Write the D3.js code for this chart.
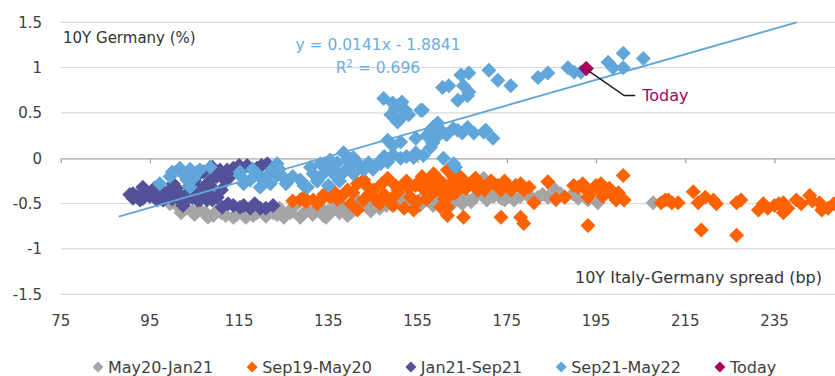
<!DOCTYPE html>
<html>
<head>
<meta charset="utf-8">
<script src="https://cdn.jsdelivr.net/npm/d3@7"></script>
<style>
  html, body { margin: 0; padding: 0; background: #fff; }
  svg { display: block; font-family: "DejaVu Sans", sans-serif; }
</style>
</head>
<body>
<div class="chart_wrapper"></div>
<script>
// series: [spread (bp), 10Y Bund yield (%)]
const mayJan21 = [
  [99.5,-0.5],[101.1,-0.52],[103,-0.55],[106.2,-0.57],[107.5,-0.6],[109.2,-0.63],[111,-0.6],[113.7,-0.65],
  [115.5,-0.6],[118.1,-0.63],[120,-0.58],[122.6,-0.6],[124,-0.55],[125.8,-0.61],[127.1,-0.54],[128.7,-0.65],
  [130.3,-0.57],[131.5,-0.62],[133.2,-0.54],[133.9,-0.63],[135,-0.58],[136.1,-0.57],[137,-0.5],[139.3,-0.63],
  [140.5,-0.55],[141.5,-0.46],[143.8,-0.54],[145.5,-0.5],[147.4,-0.46],[149,-0.5],[150.5,-0.35],[151.2,-0.43],
  [152.8,-0.43],[154.1,-0.46],[155.5,-0.52],[157.2,-0.46],[159.5,-0.44],[161.7,-0.46],[162.4,-0.52],[164,-0.4],
  [166,-0.45],[168,-0.42],[169.8,-0.22],[170.5,-0.46],[172,-0.42],[173.7,-0.44],[175,-0.4],[176.6,-0.46],
  [177,-0.3],[179.7,-0.39],[182,-0.43],[184.2,-0.43],[185.3,-0.32],[187.1,-0.39],[189.8,-0.39],[193.2,-0.46],
  [195.4,-0.49],[207.8,-0.49],
  [102,-0.6],[104.5,-0.58],[105,-0.62],[108,-0.65],[110,-0.58],[112,-0.63],[114.5,-0.62],[116.5,-0.65],
  [117,-0.57],[119,-0.6],[121,-0.64],[123.5,-0.62],[125,-0.65],[126.5,-0.6],[129.5,-0.6],[132,-0.58],
  [134.5,-0.65],[137.5,-0.6],[138.5,-0.55],[140,-0.6],[142.5,-0.52],[144.5,-0.58],[146.5,-0.55],[148,-0.52],
  [150,-0.48],[153,-0.5],[156,-0.44],[158.5,-0.52],[160.5,-0.43],[163,-0.46],[165,-0.5],[167,-0.48],
  [171,-0.4],[174.5,-0.46],[178,-0.42],[180.5,-0.45],[183,-0.4],[186,-0.46],[188,-0.43],[191,-0.44]
]
const sep19May20 = [
  [127,-0.47],[128.7,-0.46],[130,-0.48],[131.6,-0.46],[133.5,-0.45],[135.4,-0.43],[137,-0.45],[139.3,-0.35],
  [140,-0.5],[141.5,-0.28],[141.5,-0.57],[142.9,-0.24],[142.9,-0.46],[144,-0.4],[145.1,-0.35],[146.5,-0.5],
  [148.3,-0.22],[148.9,-0.46],[150,-0.3],[151.2,-0.32],[152,-0.55],[153.4,-0.43],[154.1,-0.57],[155.7,-0.24],
  [156.5,-0.35],[157,-0.45],[158.6,-0.17],[159,-0.3],[160.2,-0.54],[160.8,-0.28],[161.7,-0.13],[161.7,-0.54],
  [161.7,-0.63],[162.5,-0.4],[163.1,-0.21],[163.1,-0.32],[164,-0.26],[165.3,-0.24],[165.3,-0.65],[166.5,-0.3],
  [167.6,-0.24],[168.5,-0.35],[169.8,-0.32],[171,-0.28],[172.1,-0.28],[173.7,-0.35],[173.7,-0.65],[175,-0.3],
  [176,-0.35],[178.1,-0.28],[178.1,-0.65],[178.8,-0.35],[178.8,-0.72],[181.1,-0.49],[184.2,-0.26],[191,-0.32],
  [192,-0.28],[193.2,-0.43],[193.2,-0.74],[194.5,-0.35],[196.1,-0.28],[197,-0.38],[198.4,-0.39],[199.5,-0.46],
  [201.1,-0.19],[201.3,-0.46],[209.6,-0.49],[211.2,-0.46],[213.4,-0.49],[216.8,-0.37],[217.9,-0.49],[218.6,-0.79],
  [221.3,-0.46],[226.5,-0.49],[226.5,-0.85],[231.4,-0.57],[232.5,-0.5],[235,-0.52],[237,-0.49],[237,-0.6],
  [239.9,-0.46],[242.9,-0.41],[245.1,-0.49],[245.6,-0.57],[248.3,-0.5],
  [129.5,-0.43],[132.5,-0.5],[134,-0.4],[136.5,-0.38],[138,-0.42],[140.5,-0.38],[143.5,-0.3],[145.5,-0.45],
  [147,-0.28],[147.5,-0.4],[149.5,-0.52],[150.5,-0.38],[152.5,-0.25],[153,-0.33],[154.5,-0.3],[155,-0.48],
  [156,-0.2],[157.5,-0.28],[158,-0.4],[159.5,-0.22],[160,-0.36],[161,-0.45],[162,-0.3],[163.5,-0.38],
  [164.5,-0.2],[165.8,-0.33],[167,-0.28],[168,-0.22],[169,-0.28],[170,-0.35],[171.5,-0.25],[173,-0.3],
  [174.5,-0.25],[177,-0.3],[180,-0.32],[186,-0.45],[188,-0.43],[190,-0.3],[192.8,-0.35],[195,-0.3],
  [196.5,-0.42],[198,-0.33],[200,-0.38],[210.5,-0.46],[212,-0.49],[219.5,-0.43],[222,-0.5],[227.5,-0.46],
  [233.5,-0.55],[236,-0.5],[238,-0.55],[241,-0.5],[243.5,-0.47],[247,-0.55]
]
const jan21Sep21 = [
  [90.5,-0.4],[91.2,-0.39],[91.2,-0.44],[92.8,-0.46],[93.4,-0.32],[94,-0.36],[95.7,-0.39],[96.6,-0.46],
  [97.5,-0.35],[98.8,-0.43],[100.2,-0.28],[100.5,-0.4],[101.7,-0.46],[102.4,-0.52],[103.3,-0.39],[104,-0.3],
  [104.5,-0.43],[105.6,-0.46],[106.2,-0.35],[106.2,-0.46],[107.8,-0.28],[107.8,-0.46],[108.5,-0.3],[109.2,-0.21],
  [110.1,-0.43],[110.7,-0.13],[111,-0.35],[111.2,-0.54],[112,-0.25],[112.3,-0.13],[113.7,-0.11],[113.7,-0.52],
  [115.2,-0.54],[116.8,-0.08],[117.5,-0.55],[119,-0.11],[119.7,-0.55],[121.3,-0.06],[122.6,-0.52],
  [92,-0.42],[93.5,-0.44],[95,-0.42],[96,-0.33],[97,-0.4],[98,-0.46],[99,-0.37],[100,-0.45],
  [101,-0.33],[102,-0.42],[103,-0.47],[104.8,-0.37],[105,-0.25],[106.8,-0.4],[108.5,-0.4],[109,-0.46],
  [110,-0.2],[111.5,-0.18],[112.5,-0.5],[113,-0.2],[114.5,-0.14],[115,-0.08],[116,-0.52],[118,-0.12],
  [118.5,-0.5],[120,-0.08],[121,-0.55],[105.5,-0.2],[107,-0.15],[109,-0.1]
]
const sep21May22 = [
  [97.2,-0.28],[99.5,-0.2],[101.7,-0.13],[101.7,-0.11],[103.3,-0.24],[104,-0.32],[104,-0.12],[105.6,-0.15],
  [106.2,-0.13],[103.3,-0.2],[108.5,-0.1],[115.2,-0.19],[115.2,-0.15],[117.5,-0.24],[119,-0.17],
  [119.7,-0.32],[121.3,-0.19],[122.6,-0.11],[123.5,-0.19],[123.5,-0.06],[124.9,-0.21],[128.7,-0.24],[130.3,-0.32],
  [131.6,-0.17],[133.2,-0.06],[133.9,-0.17],[135.4,-0.02],[136.1,-0.11],[136.1,-0.17],[138.4,0.06],[139.3,-0.02],
  [140.6,0.01],[140.6,-0.17],[142.9,-0.13],[146,-0.06],[146.7,-0.06],[148.3,-0.04],[151.2,0],[154.6,0.06],
  [157.9,0.12],[163.1,-0.06],[163.5,-0.1],[160.8,0],[156.3,0.03],
  [148.3,0.2],[149.4,0.14],[151.2,0.18],[154.6,0.22],[157.9,0.29],[158.4,0.34],[159.5,0.39],[158.4,0.17],
  [160.6,0.29],[164,0.31],[166.2,0.34],[167.6,0.28],[169.8,0.29],[170.3,0.31],[171.9,0.22],[154.1,0.01],[156.1,0.53],
  [147.4,0.66],[149.4,0.61],[150.5,0.58],[152.3,0.53],[151.2,0.44],[150.5,0.4],[155.7,0.53],[160.6,0.78],
  [162,0.8],[164.7,0.92],[166.5,0.94],[165.3,0.8],[164,0.64],[166.2,0.69],[166.5,0.73],[171,0.97],
  [173,0.86],[175.9,0.8],[182,0.89],[184.2,0.94],[188.7,1],[190.1,0.95],[191.6,0.95],[197.7,1.06],
  [198.8,1],[201.1,1.16],[201.1,1],[205.6,1.1],
  [100,-0.15],[102.5,-0.18],[104.8,-0.22],[116,-0.28],[118,-0.12],[120.5,-0.25],[122,-0.28],[124,-0.12],
  [125.5,-0.28],[127,-0.2],[129.5,-0.3],[131,-0.1],[132.5,-0.25],[134.5,-0.08],[135,-0.3],[137,-0.05],
  [137.5,-0.25],[138.5,-0.15],[139.5,-0.1],[141.5,-0.05],[144,-0.05],[145,-0.12],[147.5,0.02],[149.5,0.04],
  [152.5,0.02],[150,0.55],[151.5,0.62],[153,0.48],[149,0.48],[157,0.25],[159,0.22],[161.5,0.26],
  [163,0.33],[165,0.28]
]
const today = [[192.8, 0.99]]

const seriesNames = ["May20-Jan21", "Sep19-May20", "Jan21-Sep21", "Sep21-May22", "Today"]
const seriesColors = ["#a5a5a5", "#ff6200", "#525199", "#60a6da", "#a8005f"]
const seriesData = [mayJan21, sep19May20, jan21Sep21, sep21May22, today]

const xTicks = [75, 95, 115, 135, 155, 175, 195, 215, 235]
const yTicks = [-1.5, -1, -0.5, 0, 0.5, 1, 1.5]
const trendSlope = 0.0141
const trendIntercept = -1.8841
const trendFrom = 88
const trendR2 = "0.696"

const width = 835
const height = 376

const x = d3.scaleLinear().domain([75, 255]).range([60.7, 60.7 + 180 * 4.461])
const y = d3.scaleLinear().domain([-1.5, 1.5]).range([294.3, 22.3])

const svg = d3.select('.chart_wrapper')
    .append('svg')
    .attr('width', width)
    .attr('height', height)
    .attr('viewBox', [0, 0, width, height])

const diamond = r => `M0,${-r}L${r},0L0,${r}L${-r},0Z`

// horizontal gridlines (zero line is the x axis)
svg.append('g')
    .selectAll('line')
    .data(yTicks.filter(t => t !== 0))
    .join('line')
    .attr('x1', x(75)).attr('x2', x(255))
    .attr('y1', d => y(d)).attr('y2', d => y(d))
    .attr('stroke', '#d9d9d9')
    .attr('stroke-width', 1.3)

// y tick labels
svg.append('g')
    .selectAll('text')
    .data(yTicks)
    .join('text')
    .attr('x', 42)
    .attr('y', d => y(d))
    .attr('dy', '0.36em')
    .attr('text-anchor', 'end')
    .attr('font-size', 15)
    .attr('fill', '#404040')
    .text(d => d)

// x axis sits at y = 0, labels along the bottom
const xAxis = svg.append('g')
    .attr('transform', `translate(0,${y(0)})`)
    .call(d3.axisBottom(x).tickValues(xTicks.concat([255])).tickSize(5).tickSizeOuter(0).tickFormat(''))
xAxis.select('.domain').attr('stroke', '#a6a6a6').attr('stroke-width', 1.3)
xAxis.selectAll('.tick line').attr('stroke', '#a6a6a6').attr('stroke-width', 1.3)

svg.append('g')
    .selectAll('text')
    .data(xTicks)
    .join('text')
    .attr('x', d => x(d))
    .attr('y', 326)
    .attr('text-anchor', 'middle')
    .attr('font-size', 15)
    .attr('fill', '#404040')
    .text(d => d)

// scatter points, in legend order
seriesData.forEach((data, i) => {
    svg.append('g')
        .selectAll('path')
        .data(data)
        .join('path')
        .attr('d', diamond(7.5))
        .attr('transform', d => `translate(${x(d[0])},${y(d[1])})`)
        .attr('fill', seriesColors[i])
})

// linear trendline of Sep21-May22, clipped at the top of the plot
const trendTo = (1.5 - trendIntercept) / trendSlope
svg.append('line')
    .attr('x1', x(trendFrom)).attr('y1', y(trendSlope * trendFrom + trendIntercept))
    .attr('x2', x(trendTo)).attr('y2', y(1.5))
    .attr('stroke', '#60a6da')
    .attr('stroke-width', 1.8)

// today marker on top of the line
svg.append('path')
    .attr('d', diamond(7.5))
    .attr('transform', `translate(${x(today[0][0])},${y(today[0][1])})`)
    .attr('fill', seriesColors[4])

const tx = x(today[0][0]), ty = y(today[0][1])
svg.append('path')
    .attr('d', `M${tx + 2},${ty + 2}L${tx + 38},${ty + 27}L${tx + 49},${ty + 27}`)
    .attr('fill', 'none')
    .attr('stroke', '#1a1a1a')
    .attr('stroke-width', 1.5)
svg.append('text')
    .attr('x', tx + 56)
    .attr('y', ty + 27)
    .attr('dy', '0.36em')
    .attr('font-size', 16)
    .attr('fill', '#a8005f')
    .text('Today')

// equation labels
svg.append('text')
    .attr('x', 378).attr('y', 50)
    .attr('text-anchor', 'middle')
    .attr('font-size', 15.5)
    .attr('fill', '#6aaee0')
    .text(`y = ${trendSlope}x - ${Math.abs(trendIntercept)}`)
const r2 = svg.append('text')
    .attr('x', 378).attr('y', 73)
    .attr('text-anchor', 'middle')
    .attr('font-size', 15.5)
    .attr('fill', '#6aaee0')
r2.append('tspan').text('R')
r2.append('tspan').attr('font-size', 10).attr('dy', -6).text('2')
r2.append('tspan').attr('dy', 6).text(` = ${trendR2}`)

// axis titles
svg.append('text')
    .attr('x', 63).attr('y', 43)
    .attr('font-size', 15)
    .attr('fill', '#333')
    .text('10Y Germany (%)')
svg.append('text')
    .attr('x', 822).attr('y', 283)
    .attr('text-anchor', 'end')
    .attr('font-size', 16)
    .attr('fill', '#333')
    .text('10Y Italy-Germany spread (bp)')

// legend
const legend = svg.append('g').attr('transform', 'translate(0,367)')
let lx = 98
seriesNames.forEach((name, i) => {
    legend.append('path')
        .attr('d', diamond(5.5))
        .attr('transform', `translate(${lx},0)`)
        .attr('fill', seriesColors[i])
    const t = legend.append('text')
        .attr('x', lx + 10)
        .attr('dy', '0.36em')
        .attr('font-size', 16)
        .attr('fill', '#404040')
        .text(name)
    lx += 10 + t.node().getComputedTextLength() + 39
})
</script>
</body>
</html>
